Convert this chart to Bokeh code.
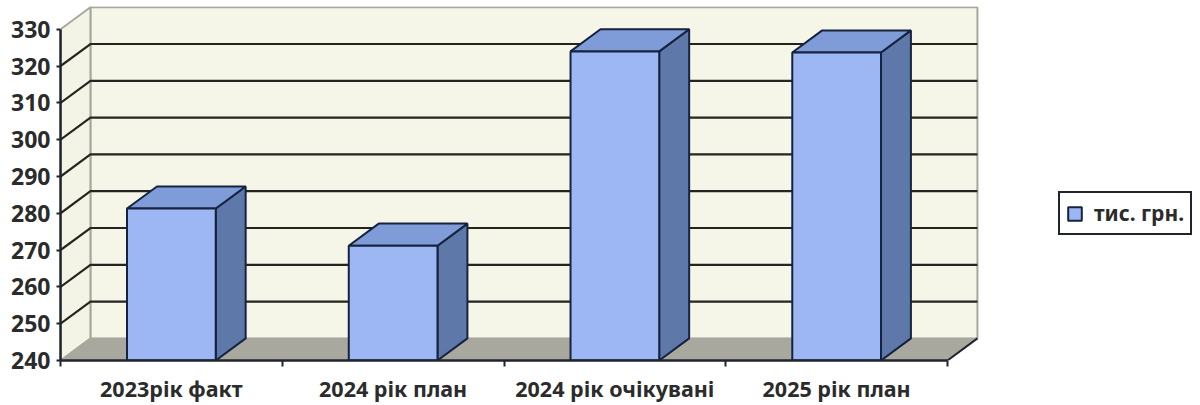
from bokeh.plotting import figure
from bokeh.embed import file_html
from bokeh.resources import INLINE
from bokeh.models import Range1d, FixedTicker, Legend, LegendItem

categories = ["2023рік факт", "2024 рік план", "2024 рік очікувані", "2025 рік план"]
values = [281.3, 271.2, 324, 323.7]
y_ticks = [240, 250, 260, 270, 280, 290, 300, 310, 320, 330]
series_name = "тис. грн."

Y0, Y1 = 240, 330
DX, DY = 0.135, 6.0      # depth of the pseudo-3D box, in data units
BAR_W = 0.40
n = len(categories)
INK = "#20242c"

p = figure(width=1200, height=405, output_backend="svg", toolbar_location=None,
           x_range=Range1d(0, 1140 / 221.75),
           y_range=Range1d(Y0, Y0 + 354 / 3.68),
           min_border_left=60, min_border_right=0, min_border_top=6, min_border_bottom=45,
           background_fill_color="white", border_fill_color="white",
           outline_line_color=None)
p.grid.visible = False

# walls and floor
p.patch([DX, n + DX, n + DX, DX], [Y0 + DY, Y0 + DY, Y1 + DY, Y1 + DY],
        fill_color="#f5f5e8", line_color="#a8a89a", line_width=2)
p.patch([0, DX, DX, 0], [Y0, Y0 + DY, Y1 + DY, Y1],
        fill_color="#f3f3e6", line_color="#a8a89a", line_width=2)
p.patch([0, n, n + DX, DX], [Y0, Y0, Y0 + DY, Y0 + DY],
        fill_color="#a9a89e", line_color="#a9a89e", line_width=1)
p.line([n, n + DX], [Y0, Y0 + DY], line_color=INK, line_width=2)

# gridlines on the back and side wall
for t in y_ticks[1:-1]:
    p.line([0, DX, n + DX], [t, t + DY, t + DY], line_color="#25251f", line_width=2.2)

# bars
front_xs, front_ys, side_xs, side_ys, top_xs, top_ys = [], [], [], [], [], []
for i, v in enumerate(values):
    a, b = i + 0.5 - BAR_W / 2, i + 0.5 + BAR_W / 2
    front_xs.append([a, b, b, a]); front_ys.append([Y0, Y0, v, v])
    side_xs.append([b, b + DX, b + DX, b]); side_ys.append([Y0, Y0 + DY, v + DY, v])
    top_xs.append([a, b, b + DX, a + DX]); top_ys.append([v, v, v + DY, v + DY])

p.patches(side_xs, side_ys, fill_color="#5e78aa", line_color="#16233f", line_width=2)
p.patches(top_xs, top_ys, fill_color="#7f9cd8", line_color="#16233f", line_width=2)
front = p.patches(front_xs, front_ys, fill_color="#9db6f4", line_color="#16233f", line_width=2)

# axes
ya = p.yaxis[0]
ya.ticker = FixedTicker(ticks=y_ticks)
ya.bounds = (Y0, Y1)
ya.axis_line_color = INK
ya.axis_line_width = 2.5
ya.major_tick_line_color = INK
ya.major_tick_line_width = 2
ya.major_tick_in = 0
ya.major_tick_out = 4
ya.minor_tick_line_color = None
ya.major_label_standoff = 6
ya.major_label_text_font = "Noto Sans"
ya.major_label_text_font_style = "bold"
ya.major_label_text_font_size = "23px"
ya.major_label_text_color = "#2b2b2b"

xa = p.xaxis[0]
centers = [i + 0.5 for i in range(n)]
xa.ticker = FixedTicker(ticks=centers, minor_ticks=list(range(n + 1)))
xa.major_label_overrides = {c: t for c, t in zip(centers, categories)}
xa.bounds = (0, n)
xa.axis_line_color = INK
xa.axis_line_width = 2.5
xa.major_tick_line_color = None
xa.minor_tick_line_color = INK
xa.minor_tick_line_width = 2
xa.minor_tick_in = 0
xa.minor_tick_out = 6
xa.major_tick_out = 6
xa.major_label_standoff = 7
xa.major_label_text_font = "Noto Sans"
xa.major_label_text_font_style = "bold"
xa.major_label_text_font_size = "21.5px"
xa.major_label_text_color = "#2b2b2b"

# legend
leg = Legend(items=[LegendItem(label=series_name, renderers=[front])],
             location=(998, 125), orientation="vertical",
             border_line_color=INK, border_line_width=2.5, border_line_alpha=1,
             background_fill_color="white", background_fill_alpha=1,
             glyph_width=17, glyph_height=17, padding=6, margin=0,
             label_standoff=11, label_text_font="Noto Sans",
             label_text_font_style="bold", label_text_font_size="21px",
             label_text_color="#2b2b2b")
p.add_layout(leg)

open("out.html", "w").write(file_html(p, INLINE))
